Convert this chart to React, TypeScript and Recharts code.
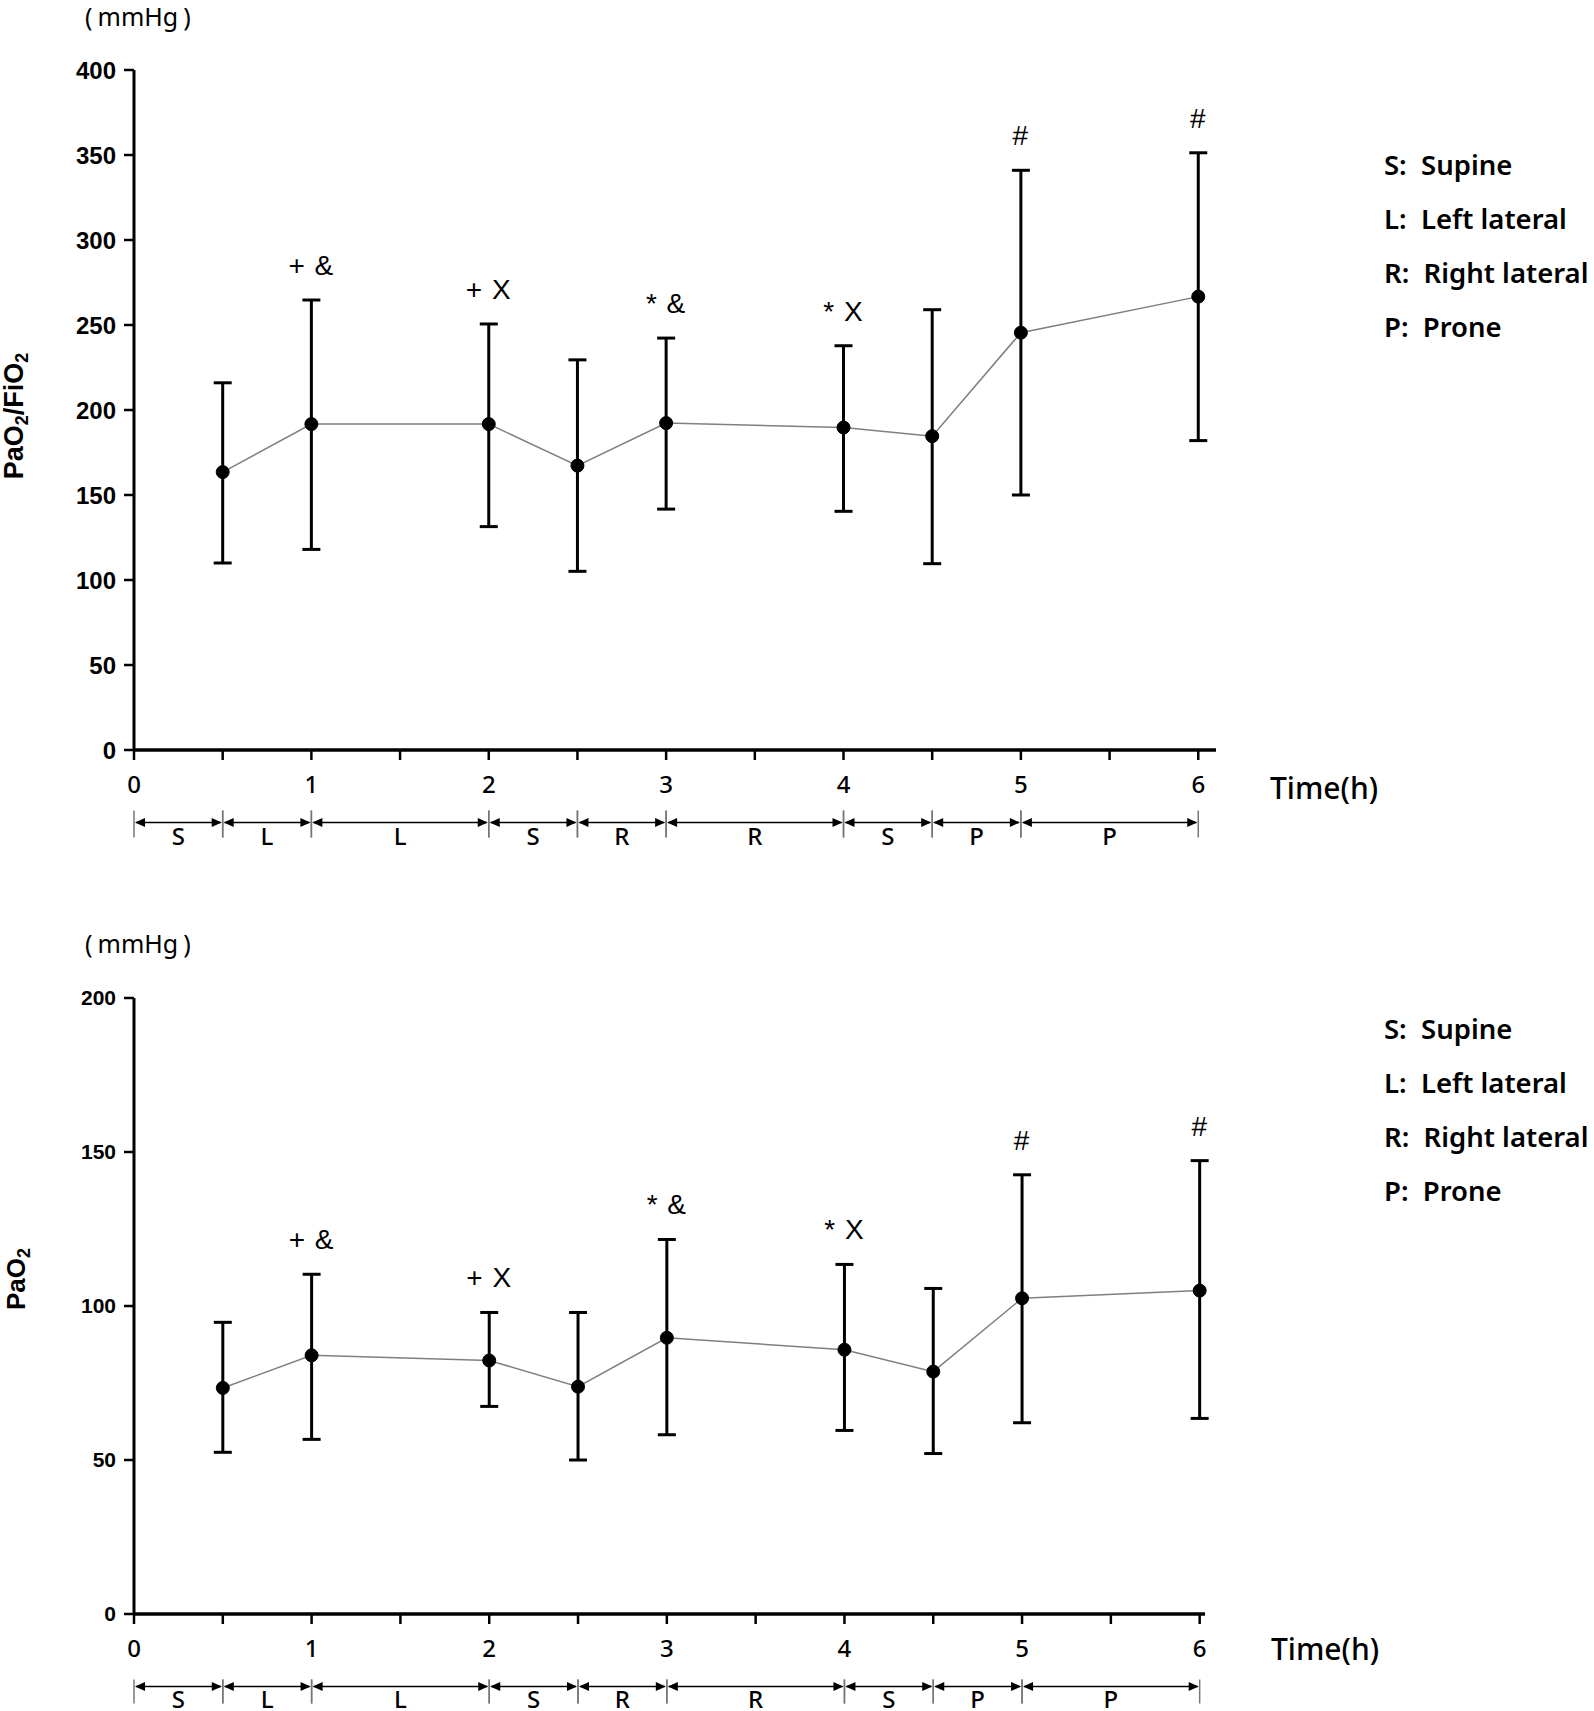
import React from "react";
import {
  ComposedChart,
  Line,
  XAxis,
  YAxis,
  ErrorBar,
  LabelList,
  ReferenceLine,
} from "recharts";

// time points (h) where PaO2/FiO2 and PaO2 were measured
const times = [0.5, 1, 2, 2.5, 3, 4, 4.5, 5, 6];

// PaO2/FiO2 (mmHg): mean with error bar ends
const ratioMean = [163.5, 191.7, 191.7, 167.3, 192.3, 189.7, 184.6, 245.5, 266.7];
const ratioUpper = [216, 264.7, 250.6, 229.5, 242.3, 237.8, 259, 341, 351.3];
const ratioLower = [110, 118, 131.4, 105.1, 141.7, 140.4, 109.6, 150, 182];

// PaO2 (mmHg)
const pao2Mean = [73.4, 84, 82.3, 73.8, 89.7, 85.8, 78.7, 102.5, 105];
const pao2Upper = [94.7, 110.3, 97.9, 97.9, 121.6, 113.5, 105.7, 142.6, 147.2];
const pao2Lower = [52.5, 56.7, 67.4, 50, 58.2, 59.6, 52.1, 62.1, 63.5];

// significance marks above each point
const marks = ["", "+ &", "+ X", "", "* &", "* X", "", "#", "#"];

const xTicks = [0, 0.5, 1, 1.5, 2, 2.5, 3, 3.5, 4, 4.5, 5, 5.5, 6];
const ratioTicks = [0, 50, 100, 150, 200, 250, 300, 350, 400];
const pao2Ticks = [0, 50, 100, 150, 200];

// body position during each interval
const positions = [
  { from: 0, to: 0.5, code: "S" },
  { from: 0.5, to: 1, code: "L" },
  { from: 1, to: 2, code: "L" },
  { from: 2, to: 2.5, code: "S" },
  { from: 2.5, to: 3, code: "R" },
  { from: 3, to: 4, code: "R" },
  { from: 4, to: 4.5, code: "S" },
  { from: 4.5, to: 5, code: "P" },
  { from: 5, to: 6, code: "P" },
];

const legendItems = [
  ["S", "Supine"],
  ["L", "Left lateral"],
  ["R", "Right lateral"],
  ["P", "Prone"],
];

const SANS = '"Noto Sans", "Noto Sans CJK SC", sans-serif';
const ARIAL = '"Liberation Sans", Arial, sans-serif';

function buildRows(mean: number[], upper: number[], lower: number[]) {
  return times.map((t, i) => ({
    t,
    mean: mean[i],
    err: [mean[i] - lower[i], upper[i] - mean[i]],
    top: upper[i],
    note: marks[i],
  }));
}

const ratioRows = buildRows(ratioMean, ratioUpper, ratioLower);
const pao2Rows = buildRows(pao2Mean, pao2Upper, pao2Lower);

// arrow band under the x axis, drawn from the axis position
const bandShape =
  (code: string, up: number, down: number, textDy: number) => (p: any) => {
    const x1 = p.x1;
    const x2 = p.x2;
    const y = p.y1 + 72.5;
    return (
      <g>
        <line x1={x1} x2={x1} y1={y - up} y2={y + down} stroke="#777" strokeWidth={1.5} />
        <line x1={x2} x2={x2} y1={y - up} y2={y + down} stroke="#777" strokeWidth={1.5} />
        <line x1={x1 + 2} x2={x2 - 2} y1={y} y2={y} stroke="#000" strokeWidth={1.6} />
        <polygon points={`${x1 + 1},${y} ${x1 + 11},${y - 4.5} ${x1 + 11},${y + 4.5}`} fill="#000" />
        <polygon points={`${x2 - 1},${y} ${x2 - 11},${y - 4.5} ${x2 - 11},${y + 4.5}`} fill="#000" />
        <text
          x={(x1 + x2) / 2}
          y={y + textDy}
          textAnchor="middle"
          fontFamily={SANS}
          fontWeight={500}
          fontSize={24}
          fill="#000"
        >
          {code}
        </text>
      </g>
    );
  };

interface PanelProps {
  rows: any[];
  height: number;
  top: number;
  xMax: number;
  rightEdge: number;
  yTicks: number[];
  yFont: number;
  xAxisHeight: number;
  bandUp: number;
  bandDown: number;
  bandTextDy: number;
}

function Panel(props: PanelProps) {
  const yMax = props.yTicks[props.yTicks.length - 1];
  return (
    <ComposedChart
      width={1594}
      height={props.height}
      data={props.rows}
      margin={{ top: props.top, right: 1594 - props.rightEdge, left: 0, bottom: 0 }}
    >
      <XAxis
        type="number"
        dataKey="t"
        domain={[0, props.xMax]}
        ticks={xTicks}
        interval={0}
        height={props.xAxisHeight}
        tickSize={10}
        tickMargin={16}
        axisLine={{ stroke: "#000", strokeWidth: 3.5 }}
        tickLine={{ stroke: "#000", strokeWidth: 2.5 }}
        tick={{ fill: "#000", fontSize: 24, fontFamily: SANS, fontWeight: 500 }}
        tickFormatter={(v: number) => (Number.isInteger(v) ? String(v) : "")}
      />
      <YAxis
        type="number"
        domain={[0, yMax]}
        ticks={props.yTicks}
        interval={0}
        width={134}
        tickSize={10}
        tickMargin={8}
        axisLine={{ stroke: "#000", strokeWidth: 3 }}
        tickLine={{ stroke: "#000", strokeWidth: 2.5 }}
        tick={{ fill: "#000", fontSize: props.yFont, fontFamily: ARIAL, fontWeight: 700 }}
      />
      {positions.map((s, i) => (
        <ReferenceLine
          key={i}
          segment={[
            { x: s.from, y: 0 },
            { x: s.to, y: 0 },
          ]}
          ifOverflow="visible"
          shape={bandShape(s.code, props.bandUp, props.bandDown, props.bandTextDy)}
        />
      ))}
      <Line
        dataKey="top"
        stroke="none"
        dot={false}
        activeDot={false}
        isAnimationActive={false}
      >
        <LabelList
          dataKey="note"
          position="top"
          offset={25}
          style={{ fontFamily: ARIAL, fontSize: 28, fill: "#000", letterSpacing: 1 }}
        />
      </Line>
      <Line
        dataKey="mean"
        stroke="#7f7f7f"
        strokeWidth={1.5}
        dot={{ r: 6.5, fill: "#000", stroke: "#000", strokeWidth: 1 }}
        activeDot={false}
        isAnimationActive={false}
      >
        <ErrorBar dataKey="err" direction="y" width={9} strokeWidth={3} stroke="#000" />
      </Line>
    </ComposedChart>
  );
}

function Legend({ baseY }: { baseY: number }) {
  return (
    <>
      {legendItems.map(([k, name], i) => (
        <text
          key={k}
          x={1384}
          y={baseY + i * 54}
          fontFamily={SANS}
          fontWeight={600}
          fontSize={27.5}
          fill="#000"
          xmlSpace="preserve"
          style={{ whiteSpace: "pre" }}
        >
          {`${k}:  ${name}`}
        </text>
      ))}
    </>
  );
}

function Unit({ y }: { y: number }) {
  return (
    <text x={85} y={y} fontFamily={SANS} fontSize={25} fill="#000">
      (<tspan dx={5}>mmHg</tspan>
      <tspan dx={5}>)</tspan>
    </text>
  );
}

export default function App() {
  return (
    <div
      style={{
        position: "absolute",
        left: 0,
        top: 0,
        width: 1594,
        height: 1711,
        background: "#fff",
        overflow: "hidden",
      }}
    >
      <div style={{ position: "absolute", left: 0, top: 0 }}>
        <Panel
          rows={ratioRows}
          height={880}
          top={70}
          xMax={6.1}
          rightEdge={1216}
          yTicks={ratioTicks}
          yFont={24}
          xAxisHeight={130}
          bandUp={12}
          bandDown={15}
          bandTextDy={22}
        />
      </div>
      <div style={{ position: "absolute", left: 0, top: 880 }}>
        <Panel
          rows={pao2Rows}
          height={831}
          top={118}
          xMax={6.03}
          rightEdge={1205}
          yTicks={pao2Ticks}
          yFont={21}
          xAxisHeight={97}
          bandUp={7}
          bandDown={17}
          bandTextDy={21}
        />
      </div>
      <svg
        width={1594}
        height={1711}
        style={{ position: "absolute", left: 0, top: 0, pointerEvents: "none" }}
      >
        <Unit y={26} />
        <Unit y={953} />
        <text
          x={23}
          y={416}
          transform="rotate(-90, 23, 416)"
          textAnchor="middle"
          fontFamily={ARIAL}
          fontWeight={700}
          fontSize={27}
          fill="#000"
        >
          PaO<tspan fontSize={18} dy={5}>2</tspan>
          <tspan dy={-5}>/FiO</tspan>
          <tspan fontSize={18} dy={5}>2</tspan>
        </text>
        <text
          x={25}
          y={1279}
          transform="rotate(-90, 25, 1279)"
          textAnchor="middle"
          fontFamily={ARIAL}
          fontWeight={700}
          fontSize={26}
          fill="#000"
        >
          PaO<tspan fontSize={18} dy={5}>2</tspan>
        </text>
        <text x={1270} y={799} fontFamily={SANS} fontWeight={500} fontSize={30} fill="#000">
          Time(h)
        </text>
        <text x={1271} y={1660} fontFamily={SANS} fontWeight={500} fontSize={30} fill="#000">
          Time(h)
        </text>
        <Legend baseY={175} />
        <Legend baseY={1039} />
      </svg>
    </div>
  );
}
